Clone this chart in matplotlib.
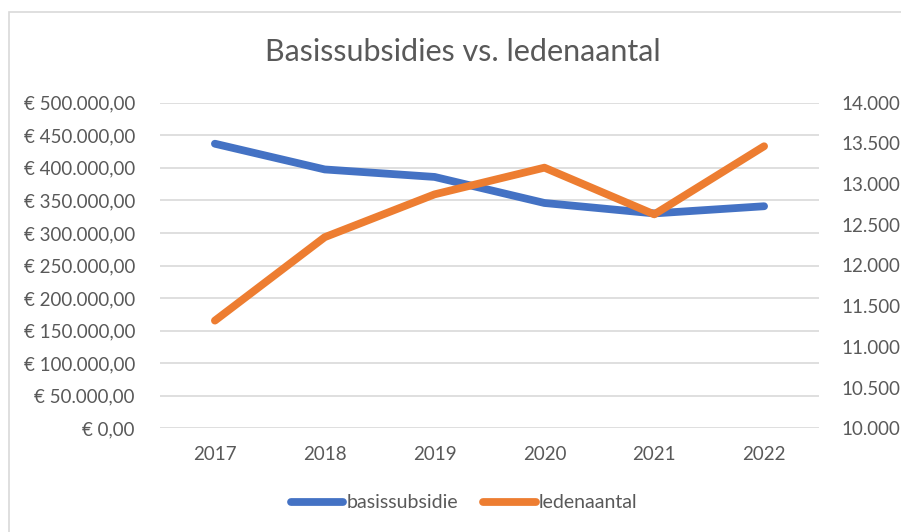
import matplotlib
matplotlib.use("Agg")
import matplotlib.pyplot as plt
from matplotlib.patches import Rectangle
from matplotlib.ticker import FuncFormatter, MultipleLocator

years = ["2017", "2018", "2019", "2020", "2021", "2022"]
basissubsidie = [437000, 397500, 386000, 346000, 330000, 341000]
ledenaantal = [11323, 12348, 12874, 13202, 12628, 13465]

plt.rcParams['font.family'] = ['Lato', 'DejaVu Sans']
txt = '#595959'
grid = '#D9D9D9'
blue = '#4472C4'
orange = '#ED7D31'

fig = plt.figure(figsize=(9.01, 5.32), dpi=100)
fig.patches.append(Rectangle((9/901, -0.05), 1.1, (532-12)/532 + 0.05,
                             transform=fig.transFigure, fill=False,
                             edgecolor=grid, linewidth=1.2))
ax = fig.add_axes([160/901, (532-428.3)/532, (819-160)/901, (428.3-102.7)/532])
ax2 = ax.twinx()

x = list(range(len(years)))
l1, = ax.plot(x, basissubsidie, color=blue, lw=5.6, solid_capstyle='round',
              solid_joinstyle='round', label='basissubsidie', zorder=3)
l2, = ax2.plot(x, ledenaantal, color=orange, lw=5.6, solid_capstyle='round',
               solid_joinstyle='round', label='ledenaantal', zorder=3)

ax.set_xlim(-0.5, len(years) - 0.5)
ax.set_ylim(0, 500000)
ax2.set_ylim(10000, 14000)
ax.yaxis.set_major_locator(MultipleLocator(50000))
ax2.yaxis.set_major_locator(MultipleLocator(500))

def eur(v, p):
    s = f"{int(round(v)):,}".replace(",", ".")
    return f"€ {s},00"

def num(v, p):
    return f"{int(round(v)):,}".replace(",", ".")

ax.yaxis.set_major_formatter(FuncFormatter(eur))
ax2.yaxis.set_major_formatter(FuncFormatter(num))
ax.set_xticks(x)
ax.set_xticklabels(years)

for a in (ax, ax2):
    for s in a.spines.values():
        s.set_visible(False)
    a.tick_params(length=0, labelsize=13.5, colors=txt)
ax.tick_params(axis='y', pad=18)
ax2.tick_params(axis='y', pad=16)
ax.tick_params(axis='x', pad=13)
ax.grid(axis='y', color=grid, lw=1.2)
ax.set_axisbelow(True)
ax2.set_zorder(ax.get_zorder() + 1)
ax2.patch.set_visible(False)

fig.text(463/901, (532-52)/532, "Basissubsidies vs. ledenaantal", ha='center',
         va='center', fontsize=22, color=txt, fontweight='normal')

fig.legend([l1, l2], ['basissubsidie', 'ledenaantal'], loc='center',
           bbox_to_anchor=(464/901, (532-503)/532), ncol=2, frameon=False,
           fontsize=14, labelcolor=txt, handlelength=2.7, handletextpad=0.15,
           columnspacing=1.3)

fig.savefig("out.png", dpi=100)
